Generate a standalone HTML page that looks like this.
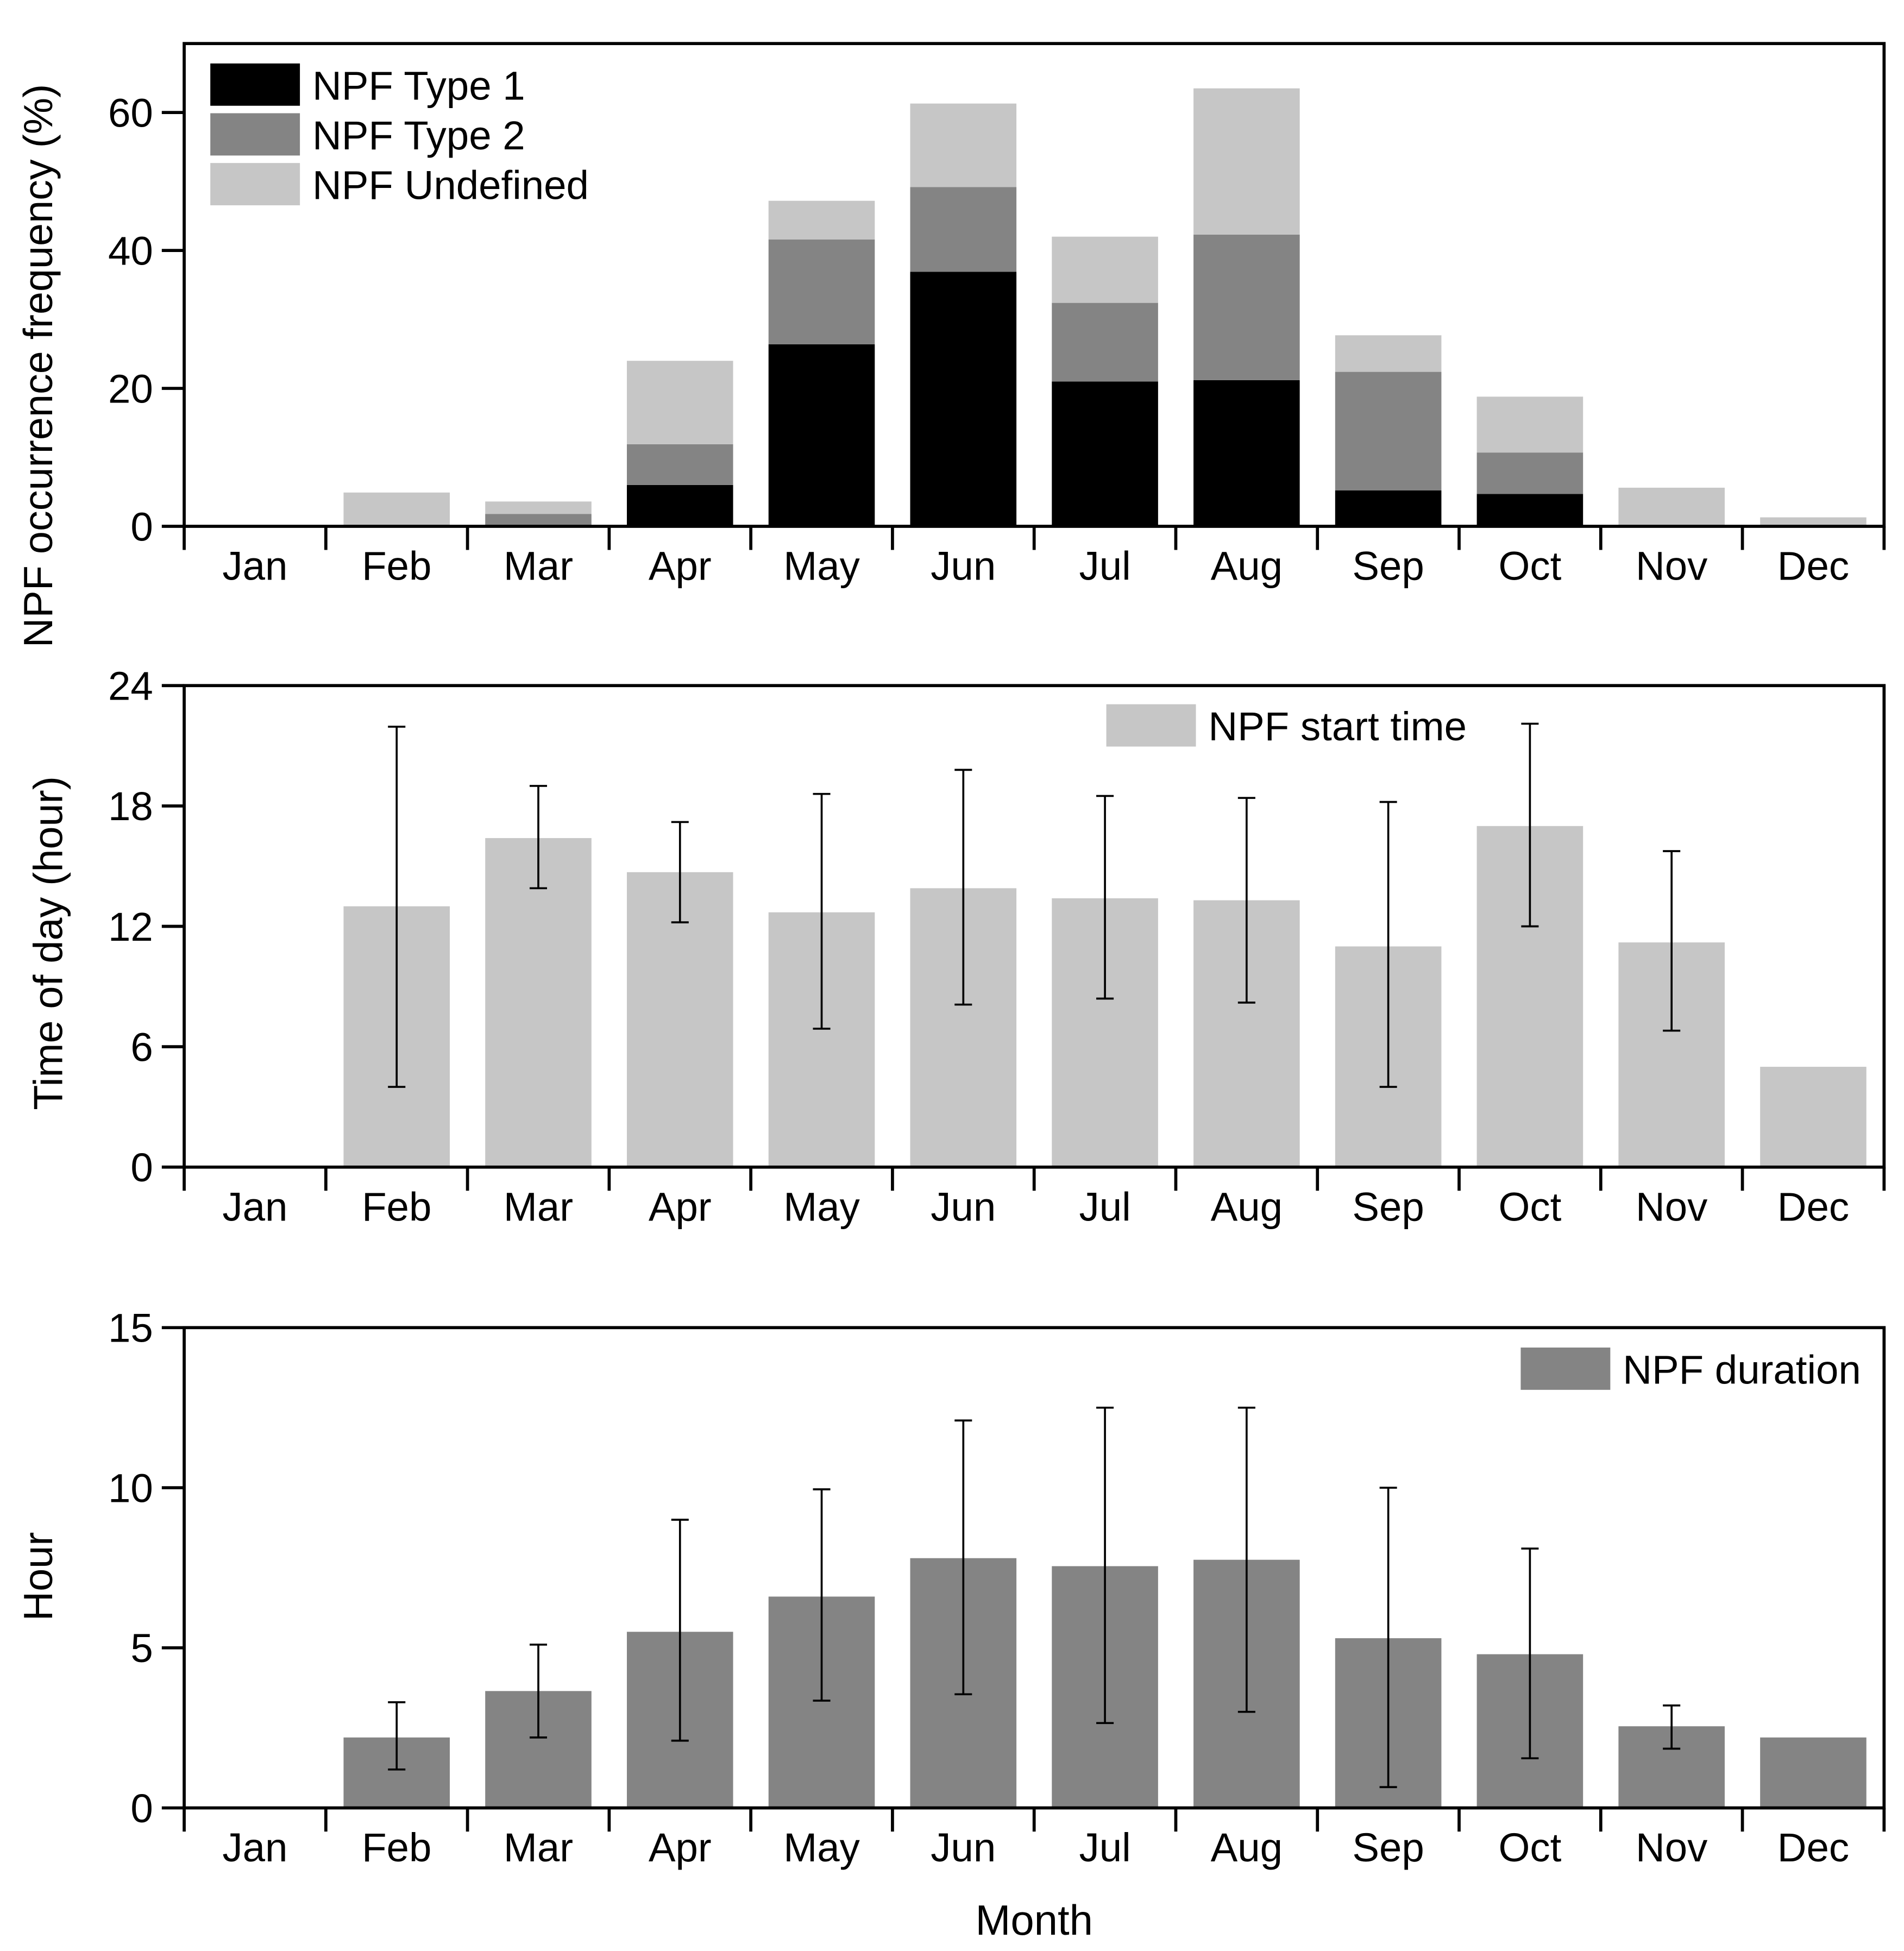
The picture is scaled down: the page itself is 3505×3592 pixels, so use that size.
<!DOCTYPE html>
<html><head><meta charset="utf-8"><style>
html,body{margin:0;padding:0;background:#fff}
svg{display:block}
text{font-family:"Liberation Sans",Arial,sans-serif;fill:#000}
</style></head><body>
<svg id="fig" width="3505" height="3592" viewBox="0 0 1530 1568" xmlns="http://www.w3.org/2000/svg"></svg>
<script>
const months = ["Jan","Feb","Mar","Apr","May","Jun","Jul","Aug","Sep","Oct","Nov","Dec"];
// Panel 1: stacked occurrence frequency (%)
const type1 = [0,0,0,6.0,26.4,36.9,21.0,21.2,5.2,4.7,0,0];
const type2 = [0,0,1.8,5.9,15.2,12.3,11.4,21.1,17.2,6.0,0,0];
const undef = [0,4.9,1.8,12.1,5.6,12.1,9.6,21.2,5.3,8.1,5.6,1.3];
const freqTicks = [0,20,40,60];
// Panel 2: start time (hour)
const startMean = [null,13.0,16.4,14.7,12.7,13.9,13.4,13.3,11.0,17.0,11.2,5.0];
const startHi = [null,21.95,19.0,17.2,18.6,19.8,18.5,18.4,18.2,22.1,15.75,null];
const startLo = [null,4.0,13.9,12.2,6.9,8.1,8.4,8.2,4.0,12.0,6.8,null];
const startTicks = [0,6,12,18,24];
// Panel 3: duration (hour)
const durMean = [null,2.2,3.65,5.5,6.6,7.8,7.55,7.75,5.3,4.8,2.55,2.2];
const durHi = [null,3.3,5.1,9.0,9.95,12.1,12.5,12.5,10.0,8.1,3.2,null];
const durLo = [null,1.2,2.2,2.1,3.35,3.55,2.65,3.0,0.65,1.55,1.85,null];
const durTicks = [0,5,10,15];

const NS="http://www.w3.org/2000/svg";
const svg=document.getElementById('fig');
function el(tag,attrs,parent,txt){const e=document.createElementNS(NS,tag);for(const k in attrs)e.setAttribute(k,attrs[k]);if(txt!==undefined)e.textContent=txt;(parent||svg).appendChild(e);return e;}
const X0=148,X1=1514,BW=(X1-X0)/12;
function xc(i){return X0+BW*(i+0.5);}
function makeY(top,bot,max){return v=>bot-(bot-top)*v/max;}

function axes(g,top,bot,max,ticks,name){
  const y=makeY(top,bot,max);
  const f=el('rect',{x:X0,y:top,width:X1-X0,height:bot-top,fill:'none',stroke:'#000','stroke-width':2.5},g);
  
  ticks.forEach(t=>{
    const l=el('line',{x1:X0-18,x2:X0,y1:y(t),y2:y(t),stroke:'#000','stroke-width':2.5},g);
    
    const tx=el('text',{x:X0-25,y:y(t)+11.5,'font-size':32.5,'text-anchor':'end'},g,String(t));
    
  });
  for(let i=0;i<=12;i++){
    const l=el('line',{x1:X0+BW*i,x2:X0+BW*i,y1:bot,y2:bot+19,stroke:'#000','stroke-width':2.5},g);
    
  }
  months.forEach((m,i)=>{
    const tx=el('text',{x:xc(i),y:bot+43,'font-size':32.5,'text-anchor':'middle'},g,m);
    
  });
  return y;
}
function ytitle(g,x,cy,txt,name){
  const t=el('text',{x:x,y:cy,'font-size':33,'text-anchor':'middle',transform:`rotate(-90 ${x} ${cy})`},g,txt);
  
}
function legendItem(g,x,y,color,txt,name){
  const r=el('rect',{x:x,y:y,width:72,height:34,fill:color},g);
  
  const t=el('text',{x:x+82,y:y+29,'font-size':32.5},g,txt);
  
}
const bwid=BW*0.75;
// Panel 1
const g1=el('g',{});

{
  const top=35,bot=423,y=makeY(top,bot,70);
  months.forEach((m,i)=>{
    let base=0;
    [[type1,'#000000','type1'],[type2,'#848484','type2'],[undef,'#c6c6c6','undefined']].forEach(([arr,c,n])=>{
      const v=arr[i]; if(v>0){
        const r=el('rect',{x:xc(i)-bwid/2,y:y(base+v),width:bwid,height:y(base)-y(base+v),fill:c},g1);
        
      }
      base+=v;
    });
  });
  axes(g1,top,bot,70,freqTicks,'frequency');
  ytitle(g1,42,294,'NPF occurrence frequency (%)','frequency-y-axis-title');
  legendItem(g1,169,51,'#000000','NPF Type 1','legend-type1');
  legendItem(g1,169,91,'#848484','NPF Type 2','legend-type2');
  legendItem(g1,169,131,'#c6c6c6','NPF Undefined','legend-undefined');
}
function errPanel(gname,top,bot,max,ticks,mean,hi,lo,color,title,tx,ty,legTxt,legX,legY){
  const g=el('g',{});
  
  const y=makeY(top,bot,max);
  months.forEach((m,i)=>{
    if(mean[i]==null)return;
    const r=el('rect',{x:xc(i)-bwid/2,y:y(mean[i]),width:bwid,height:bot-y(mean[i]),fill:color},g);
    
    if(hi[i]!=null){
      const e=el('path',{d:`M${xc(i)},${y(hi[i])}V${y(lo[i])}M${xc(i)-7},${y(hi[i])}h14M${xc(i)-7},${y(lo[i])}h14`,stroke:'#000','stroke-width':1.6,fill:'none'},g);
      
    }
  });
  axes(g,top,bot,max,ticks,gname);
  ytitle(g,tx,ty,title,gname+'-y-axis-title');
  legendItem(g,legX,legY,color,legTxt,gname+'-legend');
}
errPanel('start-time-panel',551,938,24,startTicks,startMean,startHi,startLo,'#c6c6c6','Time of day (hour)',50,758,'NPF start time',889,566);
errPanel('duration-panel',1067,1453,15,durTicks,durMean,durHi,durLo,'#848484','Hour',42,1267,'NPF duration',1222,1083);
const mt=el('text',{x:831,y:1555,'font-size':34,'text-anchor':'middle'},svg,'Month');


</script>
</body></html>
